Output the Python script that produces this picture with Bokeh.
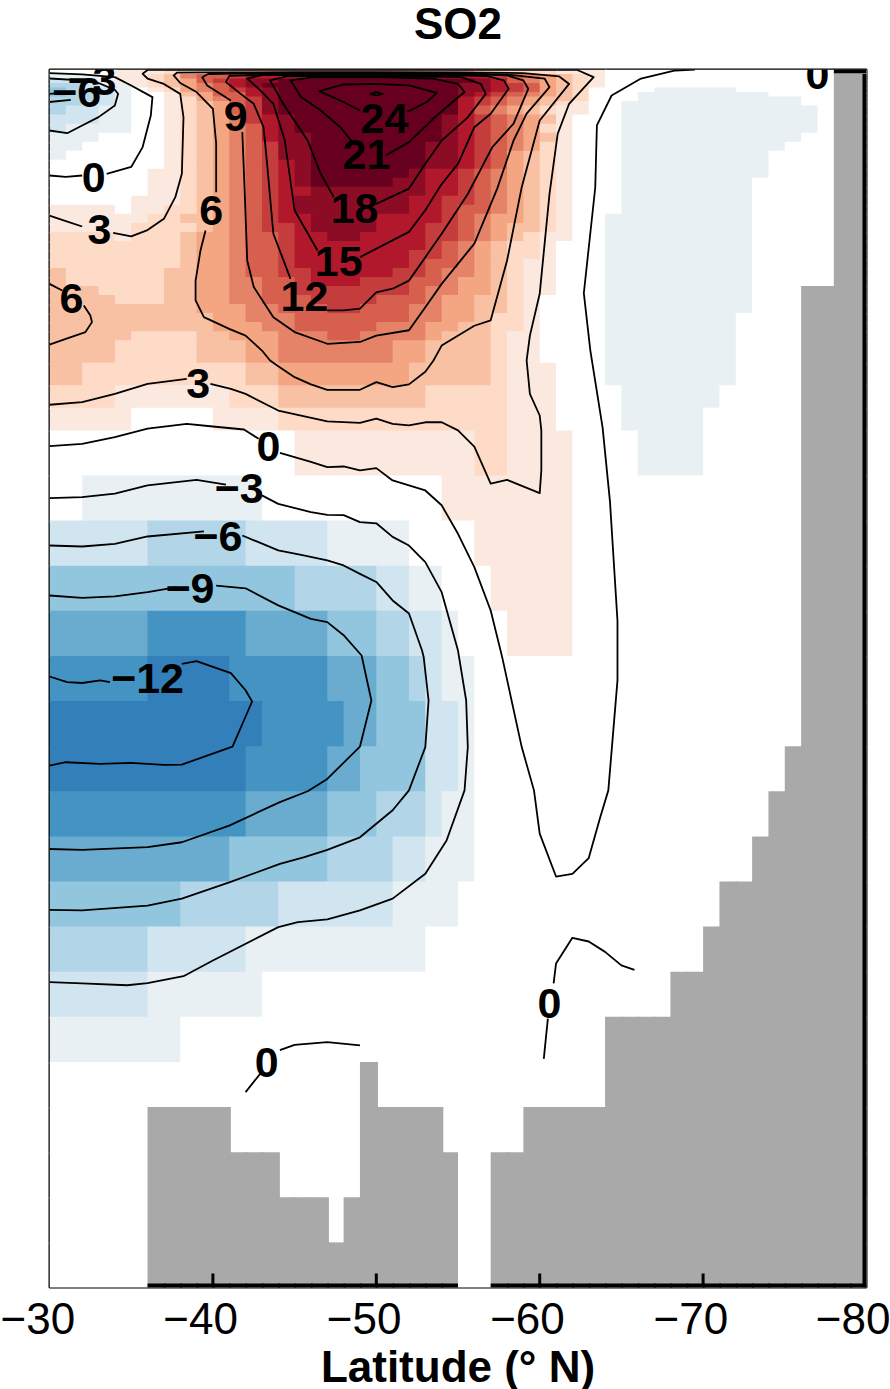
import re
import numpy as np
from bokeh.plotting import figure
from bokeh.models import ColumnDataSource, FixedTicker
from bokeh.core.properties import value
from bokeh.embed import file_html
from bokeh.resources import INLINE

TITLE = "SO2"
XLABEL = "Latitude (\u00b0 N)"
X_TICKS = [-30, -40, -50, -60, -70, -80]

# ---- shaded field: vertical layer thickness (m), one column per degree from 30S
LAYER_M = [5] * 8 + [10] * 26 + [25] * 4 + [50] * 19
N_COLS = 50

# colour classes of the field (about 1.75 units wide each)
BAND_COLOR = {
    ".": "#ffffff",
    "a": "#fbe9df", "b": "#fddbc7", "c": "#f9c1a4", "d": "#f4a582", "e": "#e58368",
    "f": "#d6604d", "g": "#c43c3c", "h": "#b2182b", "i": "#8c0c25", "j": "#67001f",
    "A": "#e8f0f4", "B": "#d1e5f0", "C": "#b2d5e7", "D": "#92c5de", "E": "#6aaccf",
    "F": "#4393c3", "G": "#327fba",
}

# each row: band letter + column where that band ends ('.' = near zero)
FIELD_ROWS = [
    ".4 a7 b11 c26 b31 a34",
    "A3 .4 a6 b7 c8 e9 f11 g12 h27 g28 f29 e30 d31 c32 b33 a34",
    "B2 A4 a6 b7 c8 d9 f10 g11 h12 i14 j26 i27 h28 f29 e30 d31 c32 b33 a34",
    "C2 B3 A5 a6 b7 c8 d9 e10 f11 h12 i13 j25 i27 h28 g29 f30 d31 c32 b33 a34",
    "D1 C2 B4 A5 .6 a7 b8 d9 e10 f11 g12 h13 i14 j25 i27 h28 g29 f30 d31 c32 b33 .37 A42",
    "D1 C3 B4 A5 .7 a8 c9 d10 f12 h13 i14 j25 i26 h27 g28 f29 e30 d31 c32 b33 .36 A44",
    "C3 B4 A5 .7 a8 b9 d10 e11 f12 g13 i14 j25 h26 g27 f28 e29 d30 c32 b33 .36 A46",
    "C2 B4 A5 .7 a8 b9 c10 d11 f12 g13 i14 j25 h26 g27 f28 e29 d30 c31 b32 a33 .35 A46",
    "C1 B3 A5 .7 a8 b9 c10 d11 f12 g13 i14 j25 h26 f27 e28 d29 c30 b31 a33 .35 A47",
    "B3 A5 .7 a8 b9 c10 d11 e12 g13 h14 i15 j24 i25 h26 g27 f28 e29 d30 c31 a32 .35 A47",
    "B1 A5 .7 a8 b9 c10 d11 e12 f13 h14 i15 j24 i25 h26 g27 f28 e29 d30 b31 a32 .35 A47",
    "A3 .7 a8 b9 c10 d11 e12 f13 h14 i16 j24 i25 h26 g27 f28 e29 d30 c31 a32 .35 A46",
    "A2 .7 a8 b9 c10 d11 e12 f13 g14 i16 j23 i25 h26 g27 f28 e29 d30 b31 a32 .35 A45",
    "A1 .7 a8 b9 c10 d11 e12 f13 g14 i16 j23 i25 h26 g27 f28 d29 c30 b31 a32 .35 A44",
    ".7 a8 b9 c10 d11 e12 f13 g14 h15 i16 j23 i25 h26 g27 f28 d29 c30 b31 a32 .35 A44",
    ".6 a8 b9 c10 d11 e12 f13 g14 h15 i16 j22 i23 h25 g26 f27 e28 d29 c30 b31 a32 .35 A44",
    ".6 a8 b9 c10 d11 e12 f13 g14 h15 i16 j21 i23 h25 g26 f27 e28 d29 c30 b31 a32 .35 A43",
    ".6 a8 b9 c10 d11 e12 f13 g14 h16 i23 h25 g26 f27 e28 d29 c30 b31 a32 .35 A43",
    ".5 a8 b9 c10 d11 e12 f13 g14 h15 i22 h24 g26 f27 e28 d29 c30 b31 a32 .35 A43",
    "a4 .5 a7 b9 c10 d11 e12 f13 g14 h15 i22 h24 g25 f27 e28 d29 c30 b31 a32 .35 A43",
    "a6 b8 c10 d11 e12 f13 g14 h16 i20 h24 g25 f26 e27 d29 c30 b31 a32 .34 A43",
    "a5 b9 c10 d11 e12 f13 g15 h16 i20 h23 g25 f26 e27 d28 c30 b31 a32 .34 A43",
    "b4 a5 b8 c9 d11 e12 f14 g15 h17 i19 h23 g25 f26 e27 d28 c29 b30 a32 .34 A43",
    "b8 c9 d11 e12 f14 g15 h23 g24 f25 e26 d27 c28 b30 a31 .34 A43",
    "b8 c9 d11 e12 f14 g15 h22 g24 f25 e26 d27 c28 b30 a31 .34 A43",
    "b8 c9 d11 e12 f14 g15 h22 g23 f25 e26 d27 c28 b29 a31 .34 A43",
    "c1 b7 c9 d11 e12 f14 g16 h21 g23 f24 e26 d27 c28 b29 a31 .34 A43",
    "c1 b7 c9 d11 e13 f15 g16 h19 g22 f24 e25 d27 c28 b29 a31 .34 A43",
    "c3 b7 c9 d11 e13 f15 g22 f23 e25 d27 c28 b29 a31 .34 A43",
    "c4 b7 c9 d11 e13 f16 g20 f23 e24 d26 c28 b29 a30 .34 A43",
    "c9 d12 e14 f17 g19 f22 e24 d26 c28 b29 a30 .34 A43",
    "c10 d12 e15 f22 e24 d26 c27 b29 a30 .34 A42",
    "c10 d13 e15 f20 e23 d25 c27 b29 a30 .34 A42",
    "c5 b9 c11 d14 e17 f19 e23 d24 c27 b28 a30 .34 A42",
    "c4 b9 c12 d14 e21 d23 c27 b28 a30 .34 A42",
    "c2 b12 c14 d22 c27 b28 a31 .34 A42",
    "b4 a11 b14 c23 b28 a31 .35 A41",
    "a5 .10 a14 b28 a31 .35 A40",
    ".15 a26 b28 a32 .36 A40",
    ".2 A13 .24 a32",
    "B6 C12 B17 A22 .26 a32",
    "D15 C20 B22 A24 .27 a32",
    "E6 F12 E17 D20 C22 B24 A25 .28 a32",
    "F6 G11 F17 E20 D22 C23 B24 A26",
    "G13 F18 E20 D23 B25 A26",
    "G12 F17 E19 D23 B25 A26",
    "F12 E17 D20 C23 B24 A26",
    "E11 D17 C21 B23 A26",
    "D8 C14 B21 A25",
    "C6 B12 A23",
    "B6 A13",
    "A8",
    "", "", "", "", "",
]

# first land-covered layer per column (57 = no land in the column)
LAND_TOP = [57] * 6 + [53] * 5 + [54] * 3 + [55] * 3 + [56, 55, 52] + [53] * 4 + [54] + [57] * 2 \
    + [54] * 2 + [53] * 5 + [51] * 4 + [50] * 2 + [49] + [48] * 2 + [47, 46, 45] + [28] * 2 + [1] * 2

# ---- contours: (degrees poleward of 30S, depth m)
C24 = [[(21.9,47),(23.1,36),(23.7,26),(22,17.7),(20,16),(18,16.6),(16.5,24),(18,36),(19,45.4)]]
C27 = [[(19.6,27),(20,25),(20.4,27),(20,28.8),(19.6,27)]]
C21 = [[(18.7,84),(17.8,64),(16.6,45.4),(15.4,30.6),(14.75,12),(16,9),(20,8.6),(23.5,10),(25,16),(25.4,25),(23.7,51),(22,80.5),(20.6,95)]]
C18 = [[(17.4,141.5),(16.6,115.6),(15.8,78.7),(14.3,38),(13.5,12),(14.5,7.6),(20,7.3),(25.2,8.5),(26.4,16),(26.7,27),(25.6,53),(24,78.7),(23,104.5),(22,132),(20,149)]]
C15 = [[(16.4,200.6),(15,156),(14.4,78.7),(13.7,38),(12.9,23),(12.1,10),(13,6.3),(18,6.2),(24,6.3),(26.8,7.4),(27.8,12),(28.1,21.4),(27,49),(26,64),(25,104.5),(24,127),(23,156),(22,180),(19,208)]]
C12 = [[(14.75,232),(13.7,182),(13.3,101),(13.1,64),(12.5,38),(11.7,27),(10.8,14),(11,7),(14,5.3),(20,5.2),(26,5.4),(28,6.6),(29,12),(29.3,21.4),(28.4,60),(27.1,86),(25.6,138),(24,182),(23,208),(22,234),(21,243),(20,247),(19,265),(18,267),(17,267)]]
C9 = [[(11.8,69.4),(11.95,137.8),(12.1,211.7),(12.5,241),(13.7,274.5),(15,291),(17,304),(19,302),(20,295),(22,289),(23,263.4),(24,237.6),(26,193),(27.4,132),(28.4,78.7),(29.2,49),(30.6,19.6),(30.3,10),(28,5.5),(24,4.3),(18,4.2),(12,4.3),(9.7,5),(9.35,8.5),(9.65,17.7),(11.1,34.3)]]
C6 = [[(0,237.6),(0.78,245)],
      [(2.1,261.6),(2.5,272.7),(2.6,280),(2.2,291),(1,298.5),(0,305)],
      [(9.55,178.4),(9.24,200.6),(8.94,234),(8.94,256),(9.45,274.5),(11,287.5),(12,295),(13,311.5),(13.5,322.5),(14,329),(15,341),(16,349),(17,355),(19,355),(20,346.5),(21,352),(22,349),(23,335),(23.5,322.5),(24,306),(26,284),(27,278),(28,212),(28.9,130.4),(30,56.5),(31.8,16),(31.2,7.7),(29,4),(25,3.2),(20,3),(15,3),(10,3.2),(7.8,3.5),(7.6,6.6),(8,15),(9,25),(10,43.6),(10.2,82),(10.2,136)]]
C3 = [[(0,162),(1,168),(2,174)],
      [(3.9,181),(5,185),(6,178),(7,165.5),(7.7,141.5),(8.1,115.6),(8.2,53),(8,27),(7,16),(6,10),(5.7,4.8),(6,0.5),(20,0.5),(32.3,0.5),(33.3,8.5),(31.8,38),(31.1,71.3),(30.6,137.8),(30,248.6),(29.4,295),(29.2,322.5),(29.4,359.5),(30,383.5),(30.1,400),(30.1,444.4),(30,469.6),(28,454.8),(27,459),(26,418),(25,400),(24,391),(23,391),(22,394.5),(21,392.7),(20,387),(19,391.6),(17,390),(14,378),(12,359.5),(11.1,354),(9.85,348.4)],
      [(8.4,342.8),(6,348.4),(4,359.5),(2,368.7),(0,371.6)]]
C0 = [[(0,117.5),(1,119),(2,117.5)],
      [(3.5,115.6),(5,108),(5.7,86),(6.2,51),(6.3,30.6),(5,17.7),(4,8.5),(2,5.5),(0,4)],
      [(0,417.5),(2,415),(4,407.5),(6,398),(8.4,392.7),(10,395.7),(11.9,399),(12.8,409.3)],
      [(14.1,425),(16,435),(17,440.7),(18,440),(19,444.4),(20,441.8),(21,455.5),(23,466.6),(24,483),(25,514.6),(26,551.6),(27,599.6),(27.7,651),(28.9,751),(29.65,799),(30,847),(31,894.5),(32,891.5),(33,874),(33.7,829),(34.2,799),(34.76,677),(34.76,611),(34.3,478.6),(33.85,397),(33.1,311.5),(32.7,248),(33.4,130.8),(33.5,62),(34.4,28.8),(36.2,10),(38.3,1.1),(39.5,0)],
      [(12,1133.5),(12.9,1113)],
      [(14.1,1087),(15,1081),(17,1078),(19,1081.7)],
      [(30.25,1096.5),(30.5,1052)],
      [(30.85,1013),(31,991),(32,962.4),(33,966.5),(34,978),(35,993),(35.8,998)]]
CM3 = [[(0,67.6),(1.08,70.6),(2,62),(3,52.8),(4,39.9),(4.2,27),(4,22.5),(3,15),(2,12),(0,10)],
       [(0,475),(2,474),(4,470),(6,461),(9,454.8),(10.8,460)],
       [(13,472),(14,481.4),(16,490.6),(17,493.6),(18,494),(19,501.7),(20,503),(21,518),(22,527.6),(23,546),(24,579.3),(25,644),(25.5,699.4),(25.6,751),(25.4,799),(24.3,854.6),(23,891.5),(21,919),(19,932),(17,942),(15.2,945),(14,950.6),(10,987.5),(8.2,1005),(6,1012.6),(4.75,1015),(2,1013),(0,1011.5)]]
CM6 = [[(0,27),(0.7,26)], [(0,36),(1.3,33.6)],
       [(0,527.6),(2,528.7),(4,525.7),(6,517.6),(9.45,512)],
       [(11.8,516.5),(14,533),(15.4,538),(17,544),(18,549.7),(19,559),(20,568),(21,588.5),(22,603),(22.8,644),(22.9,651.4),(23.2,699.4),(23,751),(22,799),(21,821),(19,851),(17,865),(15.6,873),(14.1,880.5),(11,901),(8.1,919),(6,926.7),(2,932),(0,931.5)]]
CM9 = [[(0,583),(2,585.6),(4,584),(6,579.3),(7.8,573.8)],
       [(10.2,572),(12,575),(14,594),(16,609),(17,612.5),(18,627),(19.1,649.5),(19.7,699.4),(19,750.4),(17,786.3),(15.8,800),(14.1,812),(11,838),(8.1,856.5),(6,862),(2,865),(0,864)]]
CM12 = [[(0,672.8),(1.08,679),(2,680),(3.1,677),(3.7,679)],
        [(8.1,658.8),(9,655.8),(11.1,669),(12,688),(12.4,700.5),(11.2,750.4),(8.1,770.4),(7,770.7),(5,768.5),(3.1,769.6),(1,767.8),(0,771.5)]]
CONTOURS = [C27, C24, C21, C18, C15, C12, C9, C6, C3, C0, CM3, CM6, CM9, CM12]

# contour labels
LABEL_TEXT = ["\u22126", "\u22123", "9", "6", "0", "3", "6", "12", "15", "18", "21", "24", "3", "0",
              "\u22123", "\u22126", "\u22129", "\u221212", "0", "0", "0"]
LABEL_LAT = [-31.66, -32.6, -41.4, -39.9, -32.7, -33.06, -31.35, -45.6, -47.7, -48.67, -49.4, -50.5,
             -39.1, -43.4, -41.6, -40.3, -38.6, -36.0, -77.0, -60.6, -43.3]
LABEL_DEPTH = [25.5, 12, 52, 156.3, 119.7, 177.3, 253.8, 251.6, 212.8, 154, 94.2, 54.3,
               348, 417.9, 464.4, 517.6, 575.3, 675, 5.5, 1035, 1100.6]

FONT = "Liberation Sans"

edges = np.concatenate([[0], np.cumsum(LAYER_M)])
total_depth = edges[-1]

p = figure(width=890, height=1411, frame_width=817, frame_height=1218,
           x_range=(-30, -80), y_range=(total_depth, 0),
           output_backend="svg", toolbar_location=None,
           min_border_left=49, min_border_right=24, min_border_top=91, min_border_bottom=102,
           background_fill_color="white", border_fill_color="white",
           title=TITLE, title_location="above")
p.styles = {"margin-top": "-22px"}

p.title.align = "center"
p.title.vertical_align = "top"
p.title.text_font = FONT
p.title.text_font_size = "44px"
p.title.text_font_style = "bold"
p.title.text_color = "black"
p.title.standoff = 40

# field: painted row by row, each cell running slightly under the next one so no seams show
L, R, T, B, COL = [], [], [], [], []
for r, row in enumerate(FIELD_ROWS):
    start = 0
    runs = re.findall(r"([.a-zA-Z])(\d+)", row) + [(".", str(N_COLS))]
    for code, end in runs:
        end = int(end)
        if end <= start:
            continue
        L.append(-30 - start); R.append(-30 - end - 0.1)
        T.append(edges[r]); B.append(edges[r + 1] + 2); COL.append(BAND_COLOR[code])
        start = end
p.quad(left="L", right="R", top="T", bottom="B", fill_color="C", line_color=None,
       source=ColumnDataSource(dict(L=L, R=R, T=T, B=B, C=COL)))

# land
lL, lR, lT = [], [], []
for c, top in enumerate(LAND_TOP):
    if top < len(LAYER_M):
        next_land = c + 1 < N_COLS and LAND_TOP[c + 1] < len(LAYER_M)
        lL.append(-30 - c); lR.append(-31 - c - (0.1 if next_land else 0)); lT.append(edges[top])
p.quad(left=lL, right=lR, top=lT, bottom=[total_depth] * len(lL),
       fill_color="#a9a9a9", line_color=None)

# contours
for group in CONTOURS:
    for seg in group:
        p.line([-30 - a for a, _ in seg], [d for _, d in seg], line_color="black", line_width=1.8,
               line_join="round")

# land outline against the frame
p.segment(x0=lL, x1=lR, y0=[total_depth] * len(lL), y1=[total_depth] * len(lL), line_color="black", line_width=8)
p.segment(x0=[-80, -78], x1=[-80, -80], y0=[edges[1], 0], y1=[total_depth, 0], line_color="black", line_width=8)

# inner ticks between the end points of the axis
inner = X_TICKS[1:-1]
p.segment(x0=inner, x1=inner, y0=[total_depth - 15.5] * len(inner), y1=[total_depth] * len(inner),
          line_color="black", line_width=3)

# contour labels
p.text(x=LABEL_LAT, y=LABEL_DEPTH, text=LABEL_TEXT, text_font=value(FONT), text_font_style="bold",
       text_font_size="43px", text_align="center", text_baseline="middle", text_color="black")

p.grid.visible = False
p.yaxis.visible = False
p.outline_line_color = "black"
p.outline_line_width = 2

ax = p.xaxis[0]
ax.ticker = FixedTicker(ticks=X_TICKS)
ax.major_label_overrides = {t: "\u2212" + str(abs(t)) + ("\u00a0\u00a0" if t != -80 else "") for t in X_TICKS}
ax.major_label_text_font = FONT
ax.major_label_text_font_size = "44px"
ax.major_label_text_color = "black"
ax.major_label_standoff = 6
ax.major_tick_in = 0
ax.major_tick_out = 0
ax.major_tick_line_color = None
ax.minor_tick_line_color = None
ax.axis_line_color = None
ax.axis_label = XLABEL
ax.axis_label_text_font = FONT
ax.axis_label_text_font_size = "44px"
ax.axis_label_text_font_style = "bold"
ax.axis_label_text_color = "black"
ax.axis_label_standoff = -4

open("out.html", "w").write(file_html(p, INLINE))
